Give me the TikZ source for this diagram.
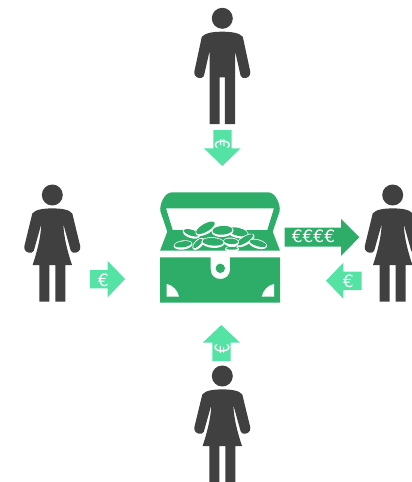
\documentclass[tikz,border=0pt]{standalone}
\usepackage{fontspec}
\usepackage{graphicx}
\setmainfont{DejaVu Sans}
\definecolor{figure}{HTML}{404040}
\definecolor{chest}{HTML}{2EAD69}
\definecolor{mint}{HTML}{55E3A5}
\tikzset{
  man/.pic={
    \fill[figure] (0,0) circle[radius=10.5pt];
    \fill[figure] (0,13.4) .. controls (-9,13.4) and (-17,14.5) .. (-20.5,18.5)
      -- (-28,53.5) .. controls (-28.8,58) and (-24,60.8) .. (-20.5,59.5)
      .. controls (-18.5,58.8) and (-18.2,57) .. (-18,56) -- (-12.8,33)
      -- (-12.8,105.7) -- (-2.6,105.7) -- (-2.6,59) -- (2.6,59) -- (2.6,105.7) -- (12.8,105.7) -- (12.8,33)
      -- (18,56) .. controls (18.2,57) and (18.5,58.8) .. (20.5,59.5)
      .. controls (24,60.8) and (28.8,58) .. (28,53.5)
      -- (20.5,18.5) .. controls (17,14.5) and (9,13.4) .. (0,13.4) -- cycle;
  },
  woman/.pic={
    \fill[figure] (0,0) circle[radius=10.5pt];
    \fill[figure] (0,13.4) .. controls (-9,13.4) and (-17,14.5) .. (-20,18.5)
      -- (-28,51.5) .. controls (-28.8,56) and (-24,58.8) .. (-20.5,57.5)
      .. controls (-18.5,56.8) and (-18.2,55) .. (-18,54) -- (-11,29)
      .. controls (-11.5,42) and (-15,56) .. (-19.7,70) -- (-13,70) -- (-13,106.7) -- (-3,106.7) -- (-3,70)
      -- (3,70) -- (3,106.7) -- (13,106.7) -- (13,70) -- (19.7,70)
      .. controls (15,56) and (11.5,42) .. (11,29)
      -- (18,54) .. controls (18.2,55) and (18.5,56.8) .. (20.5,57.5)
      .. controls (24,58.8) and (28.8,56) .. (28,51.5)
      -- (20,18.5) .. controls (17,14.5) and (9,13.4) .. (0,13.4) -- cycle;
  },
  eurolabel/.style={text=white,inner sep=0pt,font=\fontsize{17}{17}\selectfont},
  eurotall/.style={text=white,inner sep=0pt,font=\fontsize{20}{20}\selectfont},
}
\newcommand{\coin}[5]{%
  \fill[white,shift={(#1,#2)},rotate=#5] (0,0.5) ellipse[x radius=#3pt+1pt,y radius=#4pt+1.6pt];
  \fill[chest,shift={(#1,#2)},rotate=#5] (0,-0.2) ellipse[x radius=#3pt,y radius=#4pt];
}
\begin{document}
\begin{tikzpicture}[x=1pt,y=-1pt]
\useasboundingbox (0,0) rectangle (412,482);
\fill[white] (0,0) rectangle (412,482);

% people
\pic at (222.3,18.3) {man};
\pic at (52.3,195) {woman};
\pic at (392.7,195) {woman};
\pic at (222.3,376) {woman};

% chest lid
\fill[chest,even odd rule]
  (160,250.7) -- (167.3,231.7) -- (160.3,211) .. controls (159.5,205) and (164,192.3) .. (172,192.3)
  -- (268,192.3) .. controls (276,192.3) and (280.5,205) .. (279.7,211)
  -- (272.7,231.7) -- (280,250.7) -- cycle
  (166,208.3) -- (172.7,230) -- (267.3,230) -- (274,208.3) -- cycle;
% coins
\begin{scope}
\clip (160,192) rectangle (280,250.7);
\coin{191.5}{233}{8}{3}{-18}
\coin{205.5}{228}{10.5}{4}{30}
\coin{238}{232}{10}{4}{-14}
\coin{222.5}{230.5}{10}{4.4}{4}
\coin{245}{240}{9.5}{3}{32}
\coin{183}{244.5}{8.5}{3}{8}
\coin{258}{243.5}{8.5}{3}{-16}
\coin{198}{243.5}{6.5}{2.4}{45}
\coin{231}{241.5}{7}{2.8}{-4}
\coin{213}{242}{10.5}{3.8}{-4}
\coin{232}{248.5}{6}{1.4}{0}
\end{scope}

% chest base
\fill[chest] (160,257.3) -- (210.7,257.3) -- (210.7,269.5)
  .. controls (210.7,275.5) and (215,279) .. (220.3,279)
  .. controls (225.6,279) and (230,275.5) .. (230,269.5)
  -- (230,257.3) -- (280,257.3) -- (280,302.7) -- (160,302.7) -- cycle;
\fill[chest] (220.3,268.3) circle[radius=4.7pt];
\fill[white] (166.7,284) .. controls (173,285) and (178,291) .. (179,296.7) -- (166.7,296.7) -- cycle;
\fill[white] (274,284) .. controls (267.7,285) and (262.7,291) .. (261.7,296.7) -- (274,296.7) -- cycle;

% arrows
\fill[mint] (213.3,130) -- (231.7,130) -- (231.7,148.3) -- (240.7,148.3) -- (222.3,166) -- (204,148.3) -- (213.3,148.3) -- cycle;
\node[eurotall,rotate=-90] (eurotop) at (222.3,144.3) {\scalebox{0.75}[1]{€}};
\fill[mint] (212.3,361) -- (230.7,361) -- (230.7,342.7) -- (240,342.7) -- (221.3,325) -- (202.7,342.7) -- (212.3,342.7) -- cycle;
\node[eurotall,rotate=90] (eurobottom) at (222,348.3) {\scalebox{0.75}[1]{€}};
\fill[mint] (90,270) -- (107.7,270) -- (107.7,261) -- (125,279) -- (107.7,297.3) -- (107.7,288.3) -- (90,288.3) -- cycle;
\node[eurolabel] (euroleft) at (103.3,280) {€};
\fill[mint] (361.7,271.7) -- (343.3,271.7) -- (343.3,262.7) -- (326,280.7) -- (343.3,298.7) -- (343.3,290) -- (361.7,290) -- cycle;
\node[eurolabel] (euroright) at (348.3,281.5) {€};
\fill[chest] (284.7,227.7) -- (341,227.7) -- (341,219) -- (359.3,237.3) -- (341,256) -- (341,246.7) -- (284.7,246.7) -- cycle;
\node[eurolabel] (euromany) at (313.5,236.7) {€€€€};
\end{tikzpicture}
\end{document}
